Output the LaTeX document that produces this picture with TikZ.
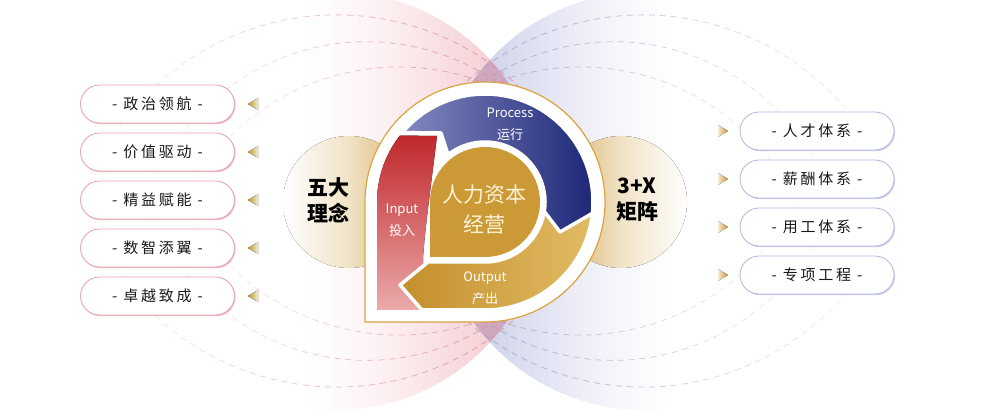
\documentclass[tikz,border=0pt]{standalone}
\usepackage{fontspec}
\setmainfont{Noto Sans CJK SC}
\newfontfamily\cjkpill[LetterSpace=18]{Noto Sans CJK SC}
\usetikzlibrary{fadings, shadows}
\definecolor{rosa}{HTML}{F2BCC3}
\definecolor{lila}{HTML}{BEC2E2}
\definecolor{linse}{HTML}{CFA8BF}
\definecolor{rosalinie}{HTML}{DE8E9C}
\definecolor{lilalinie}{HTML}{9EA3C4}
\definecolor{gold}{HTML}{CB9A36}
\definecolor{goldhell}{HTML}{E2BC66}
\definecolor{golddunkel}{HTML}{C48F2C}
\definecolor{goldkreis}{HTML}{D6AE5E}
\definecolor{rotdunkel}{HTML}{C0272B}
\definecolor{rothell}{HTML}{EBAAAB}
\definecolor{blauhell}{HTML}{8489C0}
\definecolor{blaudunkel}{HTML}{1C2676}
\definecolor{rahmen}{HTML}{D9A441}
\definecolor{creme}{HTML}{FDF2D6}
\definecolor{pillrot}{HTML}{E3A2AA}
\definecolor{pillblau}{HTML}{B3B7E2}
\tikzfading[name=fadeL, left color=transparent!90, right color=transparent!0]
\tikzfading[name=fadeR, left color=transparent!0, right color=transparent!90]

\begin{document}
\begin{tikzpicture}[x=1pt, y=1pt,
    bogenL/.style={rosalinie, line width=0.8pt, dash pattern=on 6pt off 5pt, path fading=fadeL},
    bogenR/.style={lilalinie, line width=0.8pt, dash pattern=on 6pt off 5pt, path fading=fadeR},
    pille/.style={fill=white, line width=0.8pt, rounded corners=19pt,
      minimum width=154pt, minimum height=38pt, text=black!90,
      font=\cjkpill\fontsize{15}{18}\selectfont},
    pilleL/.style={pille, draw=pillrot, drop shadow={shadow xshift=1pt, shadow yshift=-1.2pt, fill=pillrot, opacity=0.7}},
    pilleR/.style={pille, draw=pillblau, drop shadow={shadow xshift=1pt, shadow yshift=-1.2pt, fill=pillblau, opacity=0.7}},
    weiss/.style={draw=white, line width=3.5pt, line join=round},
    kern/.style={text=white, align=center, font=\fontsize{13}{22}\selectfont},
    titel/.style={text=black, align=center, font=\bfseries\fontsize{21}{26}\selectfont}]
  \useasboundingbox (0,0) rectangle (1004,418);
  % Hintergrund: rosa Kreis, Verlauf in Streifen
  \begin{scope}
    \clip (336,217) circle[radius=209];
    \foreach \i in {0,...,29} {
      \pgfmathsetmacro{\xa}{300+\i*245/30}
      \pgfmathsetmacro{\p}{100*((\i+0.5)/30)^1.4}
      \fill[rosa!\p!white] (\xa,0) rectangle (\xa+9,418);
    }
  \end{scope}
  % blauer Kreis
  \begin{scope}
    \clip (644,217) circle[radius=209];
    \foreach \i in {0,...,29} {
      \pgfmathsetmacro{\xa}{680-(\i+1)*245/30}
      \pgfmathsetmacro{\p}{100*((\i+0.5)/30)^1.4}
      \fill[lila!\p!white] (\xa-1,0) rectangle (\xa+8.2,418);
    }
  \end{scope}
  % Schnittlinse
  \begin{scope}
    \clip (336,217) circle[radius=209];
    \fill[linse] (644,217) circle[radius=209];
  \end{scope}
  % gestrichelte Boegen links
  \draw[bogenL] ([shift={(161:267)}]337,136) arc[start angle=161, end angle=19, radius=267];
  \draw[bogenL] ([shift={(161:230)}]366.5,146.3) arc[start angle=161, end angle=19, radius=230];
  \draw[bogenL] ([shift={(153:240)}]399,111) arc[start angle=153, end angle=27, radius=240];
  \draw[bogenL] ([shift={(-161:267)}]337,298) arc[start angle=-161, end angle=-19, radius=267];
  \draw[bogenL] ([shift={(-161:230)}]366.5,287.7) arc[start angle=-161, end angle=-19, radius=230];
  \draw[bogenL] ([shift={(-153:240)}]399,323) arc[start angle=-153, end angle=-27, radius=240];
  % gestrichelte Boegen rechts
  \draw[bogenR] ([shift={(19:267)}]643,136) arc[start angle=19, end angle=161, radius=267];
  \draw[bogenR] ([shift={(19:230)}]613.5,146.3) arc[start angle=19, end angle=161, radius=230];
  \draw[bogenR] ([shift={(27:240)}]581,111) arc[start angle=27, end angle=153, radius=240];
  \draw[bogenR] ([shift={(-19:267)}]643,298) arc[start angle=-19, end angle=-161, radius=267];
  \draw[bogenR] ([shift={(-19:230)}]613.5,287.7) arc[start angle=-19, end angle=-161, radius=230];
  \draw[bogenR] ([shift={(-27:240)}]581,323) arc[start angle=-27, end angle=-153, radius=240];
  % goldene Seitenkreise
  \fill[left color=white, right color=goldkreis, middle color=goldkreis!35] (349,216) circle[radius=66];
  \fill[left color=goldkreis, right color=white, middle color=goldkreis!35] (621,216) circle[radius=66];
  % Grundform in der Mitte
  \draw[rahmen, line width=1.2pt, fill=white] (365,216) arc[start angle=180, end angle=-90, radius=120] -- (365,96) -- cycle;
  % Input
  \fill[top color=rotdunkel, bottom color=rothell] (377,108) -- (377,216) arc[start angle=180, end angle=142, radius=108]
    -- (437,282) .. controls (431,232) and (425,190) .. (423,160) -- (423,108) -- cycle;
  % Kern
  \fill[gold] (430,216) arc[start angle=180, end angle=-90, radius=55] -- (430,161) -- cycle;
  % Output
  \draw[weiss, left color=golddunkel, right color=goldhell] ([shift={(5:108)}]485,216) arc[start angle=5, end angle=-90, radius=108]
    -- (422,108) -- (400,133) -- (428,156) -- (485,156) arc[start angle=-90, end angle=5, radius=60] -- cycle;
  % Process
  \draw[weiss, left color=blauhell, right color=blaudunkel] ([shift={(140:108)}]485,216) arc[start angle=140, end angle=-6, radius=108]
    -- (560,186) -- ([shift={(-9:60)}]485,216) arc[start angle=-9, end angle=128, radius=60] -- (441,285) -- cycle;
  % Beschriftung Kreislauf
  \node[kern] (process) at (510,294) {Process\\运行};
  \node[kern] (input) at (402,198) {Input\\投入};
  \node[kern] (output) at (485,130) {Output\\产出};
  \node[text=creme, align=center, font=\fontsize{21}{30}\selectfont] (kernText) at (484,208) {人力资本\\经营};
  \node[titel] (wuda) at (328,218) {五大\\理念};
  \node[titel] (matrix) at (637,218) {3+X\\矩阵};
  % linke Leiste
  \node[pilleL] (zhengzhi) at (157.5,314) {- 政治领航 -};
  \node[pilleL] (jiazhi) at (157.5,266) {- 价值驱动 -};
  \node[pilleL] (jingyi) at (157.5,218) {- 精益赋能 -};
  \node[pilleL] (shuzhi) at (157.5,170) {- 数智添翼 -};
  \node[pilleL] (zhuoyue) at (157.5,122) {- 卓越致成 -};
  \foreach \y in {314,266,218,170,122}
    \fill[left color=golddunkel, right color=goldkreis!25] (248,\y) -- (258,\y+6) -- (258,\y-6) -- cycle;
  % rechte Leiste
  \node[pilleR] (rencai) at (817,287) {- 人才体系 -};
  \node[pilleR] (xinchou) at (817,239) {- 薪酬体系 -};
  \node[pilleR] (yonggong) at (817,191) {- 用工体系 -};
  \node[pilleR] (zhuanxiang) at (817,143) {- 专项工程 -};
  \foreach \y in {287,239,191,143}
    \fill[left color=goldkreis!25, right color=golddunkel] (728,\y) -- (718,\y+6) -- (718,\y-6) -- cycle;
\end{tikzpicture}
\end{document}
